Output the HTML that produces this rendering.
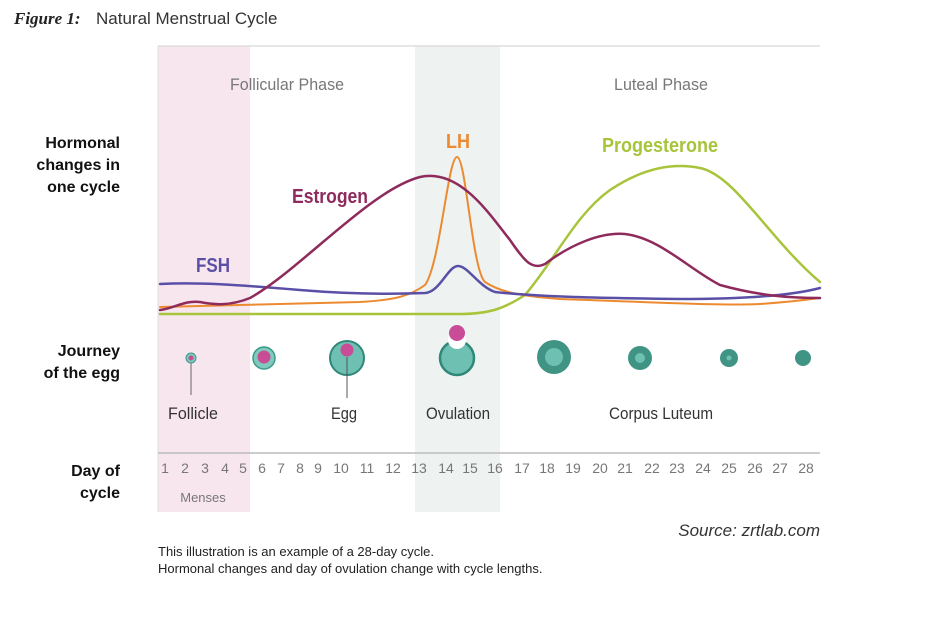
<!DOCTYPE html>
<html><head><meta charset="utf-8"><style>
body{margin:0;background:#fff;width:940px;height:628px;overflow:hidden}
svg{display:block}
</style></head><body>
<svg width="940" height="628" viewBox="0 0 940 628" xmlns="http://www.w3.org/2000/svg" font-family="Liberation Sans, sans-serif">
<text x="14" y="24" font-family="Liberation Serif, serif" font-style="italic" font-weight="bold" font-size="17" fill="#222">Figure 1:</text>
<text x="96" y="24" font-size="17" fill="#333">Natural Menstrual Cycle</text>
<rect x="158" y="46" width="92" height="466" fill="#f8e6ef"/>
<rect x="415" y="46" width="85" height="466" fill="#eef2f1"/>
<line x1="158" y1="46" x2="820" y2="46" stroke="#ddd" stroke-width="1.5"/>
<line x1="158" y1="46" x2="158" y2="512" stroke="#ddd" stroke-width="1"/>
<line x1="158" y1="453" x2="820" y2="453" stroke="#bbb" stroke-width="1.5"/>
<g font-weight="bold" font-size="16" fill="#111" text-anchor="end">
<text x="120" y="148">Hormonal</text><text x="120" y="170">changes in</text><text x="120" y="192">one cycle</text>
<text x="120" y="356">Journey</text><text x="120" y="378">of the egg</text>
<text x="120" y="476">Day of</text><text x="120" y="498">cycle</text>
</g>
<g fill="#777" font-size="17">
<text x="230" y="90" textLength="114" lengthAdjust="spacingAndGlyphs">Follicular Phase</text>
<text x="614" y="90" textLength="94" lengthAdjust="spacingAndGlyphs">Luteal Phase</text>
</g>
<g fill="none" stroke-width="2.5" stroke-linecap="round">
<path d="M160,314 L460,314 C490,314 505,308 525,295 C555,260 575,215 610,190 C640,170 670,162 700,168 C735,175 770,240 820,282" stroke="#a8c43a"/>
<path d="M160,307 C220,305 300,304 360,302 C395,300 410,296 425,285 C440,265 448,157 457,157 C466,157 472,270 485,282 C500,292 520,296 560,299 C650,302 720,306 760,304 C790,302 805,300 820,298" stroke="#ec8a30" stroke-width="2"/>
<path d="M160,284 C200,282 240,285 300,290 C360,295 400,294 425,293 C440,292 448,266 458,266 C468,266 478,286 495,292 C540,297 600,298 680,299 C740,299 790,296 820,288" stroke="#5a4fa6"/>
<path d="M160,310 C175,308 185,300 200,302 C215,305 230,306 250,298 C300,270 370,190 420,177 C460,168 490,215 510,240 C525,262 532,270 545,264 C570,245 600,232 625,234 C660,238 690,270 720,285 C760,296 790,298 820,298" stroke="#8e2b5c"/>
</g>
<g font-weight="bold" font-size="20">
<text x="292" y="203" fill="#8e2b5c" textLength="76" lengthAdjust="spacingAndGlyphs">Estrogen</text>
<text x="446" y="148" fill="#ec8a30" textLength="24" lengthAdjust="spacingAndGlyphs">LH</text>
<text x="602" y="152" fill="#a8c43a" textLength="116" lengthAdjust="spacingAndGlyphs">Progesterone</text>
<text x="196" y="272" fill="#5a4fa6" textLength="34" lengthAdjust="spacingAndGlyphs">FSH</text>
</g>
<!-- egg journey -->
<line x1="191" y1="362" x2="191" y2="395" stroke="#666" stroke-width="1"/>
<circle cx="191" cy="358" r="5" fill="#7fc9bd" stroke="#3c9a8a"/><circle cx="191" cy="358" r="2.5" fill="#c84d96"/>
<circle cx="264" cy="358" r="11" fill="#7fc9bd" stroke="#3c9a8a" stroke-width="1.5"/><circle cx="264" cy="357" r="6.5" fill="#c84d96"/>
<circle cx="347" cy="358" r="17" fill="#6ec0b2" stroke="#2f8878" stroke-width="2"/><circle cx="347" cy="350" r="6.5" fill="#c84d96"/>
<line x1="347" y1="357" x2="347" y2="398" stroke="#555" stroke-width="1"/>
<circle cx="457" cy="358" r="17" fill="#6ec0b2" stroke="#2f8878" stroke-width="2.5"/>
<circle cx="457" cy="340" r="9" fill="#fff"/>
<circle cx="457" cy="333" r="8" fill="#c84d96"/>
<circle cx="554" cy="357" r="17" fill="#3f9484"/><circle cx="554" cy="357" r="9" fill="#6ec0b2"/>
<circle cx="640" cy="358" r="12" fill="#3f9484"/><circle cx="640" cy="358" r="5" fill="#6ec0b2"/>
<circle cx="729" cy="358" r="9" fill="#3f9484"/><circle cx="729" cy="358" r="2.5" fill="#6ec0b2"/>
<circle cx="803" cy="358" r="8" fill="#3f9484"/>
<g font-size="17" fill="#333">
<text x="168" y="419" textLength="50" lengthAdjust="spacingAndGlyphs">Follicle</text>
<text x="331" y="419" textLength="26" lengthAdjust="spacingAndGlyphs">Egg</text>
<text x="426" y="419" textLength="64" lengthAdjust="spacingAndGlyphs">Ovulation</text>
<text x="609" y="419" textLength="104" lengthAdjust="spacingAndGlyphs">Corpus Luteum</text>
</g>
<g font-size="14" fill="#777" text-anchor="middle">
<text x="165" y="473">1</text><text x="185" y="473">2</text><text x="205" y="473">3</text><text x="225" y="473">4</text><text x="243" y="473">5</text><text x="262" y="473">6</text><text x="281" y="473">7</text><text x="300" y="473">8</text><text x="318" y="473">9</text><text x="341" y="473">10</text><text x="367" y="473">11</text><text x="393" y="473">12</text><text x="419" y="473">13</text><text x="446" y="473">14</text><text x="470" y="473">15</text><text x="495" y="473">16</text><text x="522" y="473">17</text><text x="547" y="473">18</text><text x="573" y="473">19</text><text x="600" y="473">20</text><text x="625" y="473">21</text><text x="652" y="473">22</text><text x="677" y="473">23</text><text x="703" y="473">24</text><text x="729" y="473">25</text><text x="755" y="473">26</text><text x="780" y="473">27</text><text x="806" y="473">28</text>
<text x="203" y="502" font-size="13">Menses</text>
</g>
<text x="820" y="536" text-anchor="end" font-style="italic" font-size="17" fill="#333">Source: zrtlab.com</text>
<text x="158" y="556" font-size="13" fill="#222">This illustration is an example of a 28-day cycle.</text>
<text x="158" y="573" font-size="13" fill="#222">Hormonal changes and day of ovulation change with cycle lengths.</text>
</svg>
</body></html>
